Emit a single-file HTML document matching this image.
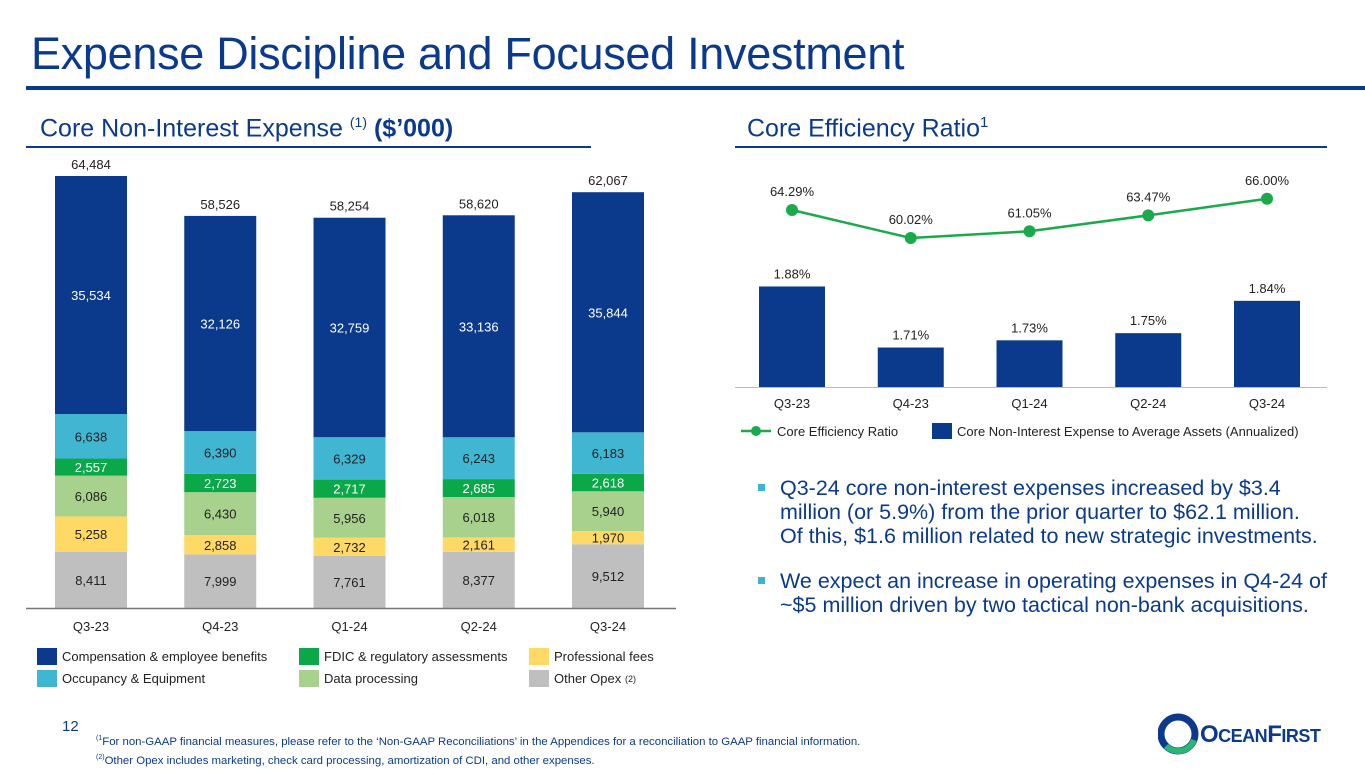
<!DOCTYPE html>
<html><head><meta charset="utf-8"><style>
body{margin:0;width:1365px;height:768px;background:#fff;font-family:"Liberation Sans",sans-serif;position:relative;overflow:hidden}
.abs{position:absolute}
</style></head><body>
<div class="abs" style="left:31px;top:28px;font-size:45px;color:#0B3A8C;letter-spacing:-0.3px;white-space:nowrap">Expense Discipline and Focused Investment</div>
<div class="abs" style="left:26px;top:86px;width:1339px;height:4px;background:#0B3A8C"></div>
<div class="abs" style="left:40px;top:114px;font-size:25px;color:#0B3A8C;white-space:nowrap">Core Non-Interest Expense <sup style="font-size:14px">(1)</sup> <b>($’000)</b></div>
<div class="abs" style="left:26px;top:146px;width:565px;height:2px;background:#0B3A8C"></div>
<div class="abs" style="left:747px;top:114px;font-size:25px;color:#0B3A8C;white-space:nowrap">Core Efficiency Ratio<sup style="font-size:15px">1</sup></div>
<div class="abs" style="left:735px;top:146px;width:592px;height:2px;background:#0B3A8C"></div>

<svg class="abs" style="left:0;top:0" width="1365" height="768" id="svg"></svg>

<div class="abs" style="left:758px;top:476px;width:584px;font-size:21.5px;color:#0B3A8C;line-height:24px">
<div style="position:relative;padding-left:22px;margin-bottom:21px"><span style="position:absolute;left:0;top:8px;width:7px;height:7px;background:#3DB5D0"></span>Q3-24 core non-interest expenses increased by $3.4<br>million (or 5.9%) from the prior quarter to $62.1 million.<br>Of this, $1.6 million related to new strategic investments.</div>
<div style="position:relative;padding-left:22px"><span style="position:absolute;left:0;top:8px;width:7px;height:7px;background:#3DB5D0"></span>We expect an increase in operating expenses in Q4-24 of<br>~$5 million driven by two tactical non-bank acquisitions.</div>
</div>

<div class="abs" style="left:62px;top:718px;font-size:15px;color:#0B3A8C">12</div>
<div class="abs" style="left:96px;top:731px;font-size:11.4px;color:#0B3A8C;line-height:15px;white-space:nowrap">
<div><sup style="font-size:7px">(1</sup>For non-GAAP financial measures, please refer to the ‘Non-GAAP Reconciliations’ in the Appendices for a reconciliation to GAAP financial information.</div>
<div><sup style="font-size:7px">(2)</sup>Other Opex includes marketing, check card processing, amortization of CDI, and other expenses.</div>
</div>
<div class="abs" style="left:1158px;top:712px;width:180px;height:44px">
<svg width="44" height="44" style="position:absolute;left:0;top:0"><circle cx="20" cy="22" r="17" fill="none" stroke="#0B3A8C" stroke-width="7"/><path d="M8 34 A17 17 0 0 0 36 28" fill="none" stroke="#2BB673" stroke-width="6"/></svg>
<div style="position:absolute;left:42px;top:9px;font-size:24px;font-weight:bold;color:#0B3A8C;letter-spacing:-0.5px">O<span style="font-size:18px">CEAN</span>F<span style="font-size:18px">IRST</span></div>
</div>

<script>
const quarters=["Q3-23","Q4-23","Q1-24","Q2-24","Q3-24"];
const otherOpex=[8411,7999,7761,8377,9512];
const profFees=[5258,2858,2732,2161,1970];
const dataProc=[6086,6430,5956,6018,5940];
const fdic=[2557,2723,2717,2685,2618];
const occupancy=[6638,6390,6329,6243,6183];
const compensation=[35534,32126,32759,33136,35844];
const totals=[64484,58526,58254,58620,62067];
const effRatio=[64.29,60.02,61.05,63.47,66.00];
const expToAssets=[1.88,1.71,1.73,1.75,1.84];

const NS="http://www.w3.org/2000/svg";
const svg=document.getElementById('svg');
function mk(tag,attrs,parent){const e=document.createElementNS(NS,tag);for(const k in attrs)e.setAttribute(k,attrs[k]);(parent||svg).appendChild(e);return e;}
function txt(x,y,s,size,fill,anchor){const t=mk('text',{x:x,y:y,'font-size':size,fill:fill,'text-anchor':anchor||'middle','font-family':'Liberation Sans, sans-serif'});t.textContent=s;return t;}
const fmt=v=>v.toLocaleString('en-US');

const base=608,kL=432/64484;
const xL=i=>91+i*129.25;
const yL=v=>base-v*kL;
const series=[
 {d:otherOpex,c:"#BFBFBF",t:"#222",n:"other-opex"},
 {d:profFees,c:"#FFD966",t:"#222",n:"professional-fees"},
 {d:dataProc,c:"#A9D18E",t:"#222",n:"data-processing"},
 {d:fdic,c:"#0BA84A",t:"#fff",n:"fdic"},
 {d:occupancy,c:"#41B6D2",t:"#222",n:"occupancy"},
 {d:compensation,c:"#0B3A8C",t:"#fff",n:"compensation"}];
quarters.forEach((q,i)=>{
 let cum=0;
 series.forEach(s=>{
  const v=s.d[i];const y0=yL(cum),y1=yL(cum+v);
  const r=mk('rect',{x:xL(i)-36,y:y1,width:72,height:y0-y1,fill:s.c});
  
  
  txt(xL(i),(y0+y1)/2+5,fmt(v),13,s.t);
  cum+=v;
 });
 txt(xL(i),yL(totals[i])-7,fmt(totals[i]),13,"#222");
 txt(xL(i),631,q,13,"#222");
});
mk('line',{x1:26,x2:676,y1:608.5,y2:608.5,stroke:"#777","stroke-width":1.5});
const leg=[["Compensation & employee benefits","#0B3A8C",37,657],["FDIC & regulatory assessments","#0BA84A",299,657],["Professional fees","#FFD966",529,657],
["Occupancy & Equipment","#41B6D2",37,679],["Data processing","#A9D18E",299,679],["Other Opex","#BFBFBF",529,679]];
leg.forEach(l=>{const r=mk('rect',{x:l[2],y:l[3]-9,width:20,height:17,fill:l[1]});
 
 txt(l[2]+25,l[3]+4,l[0],13,"#222","start");});
txt(625,682,"(2)",9,"#222","start");

const xR=i=>792+i*118.75;
const bBase=387,bk=359,bMin=1.6;
const yB=v=>bBase-(v-bMin)*bk;
const yE=v=>210-(v-64.29)*6.56;
quarters.forEach((q,i)=>{
 const r=mk('rect',{x:xR(i)-33,y:yB(expToAssets[i]),width:66,height:bBase-yB(expToAssets[i]),fill:"#0B3A8C"});
 
 
 txt(xR(i),yB(expToAssets[i])-8,expToAssets[i].toFixed(2)+"%",13,"#222");
 txt(xR(i),408,q,13,"#222");
});
mk('line',{x1:735,x2:1327,y1:387.5,y2:387.5,stroke:"#bbb","stroke-width":1});
const pts=effRatio.map((v,i)=>xR(i)+","+yE(v)).join(" ");
const pl=mk('polyline',{points:pts,fill:"none",stroke:"#1AAA4B","stroke-width":2.5});


effRatio.forEach((v,i)=>{
 const c=mk('circle',{cx:xR(i),cy:yE(v),r:6,fill:"#1AAA4B"});
 
 
 txt(xR(i),yE(v)-14,v.toFixed(2)+"%",13,"#222");
});
mk('line',{x1:741,x2:771,y1:431,y2:431,stroke:"#1AAA4B","stroke-width":2.5});
mk('circle',{cx:756,cy:431,r:5,fill:"#1AAA4B"});
txt(777,436,"Core Efficiency Ratio",13,"#222","start");
mk('rect',{x:932,y:423,width:20,height:16,fill:"#0B3A8C"});
txt(957,436,"Core Non-Interest Expense to Average Assets (Annualized)",13,"#222","start");
</script>
</body></html>
